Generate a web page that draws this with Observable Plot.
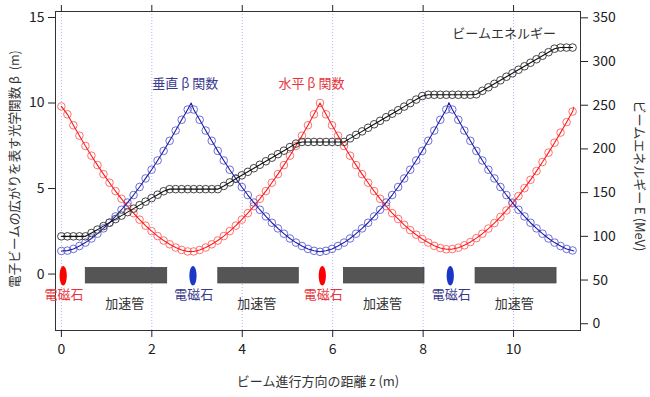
<!DOCTYPE html>
<html>
<head>
<meta charset="utf-8">
<script src="https://cdn.jsdelivr.net/npm/d3@7"></script>
<script src="https://cdn.jsdelivr.net/npm/@observablehq/plot@0.6"></script>
<style>
  html, body { margin: 0; padding: 0; background: #fff; }
</style>
</head>
<body>
<div id="chart"></div>
<script>
// ---- data ----
const z = [0, 0.133, 0.266, 0.399, 0.532, 0.665, 0.798, 0.931, 1.064, 1.197,
  1.33, 1.463, 1.596, 1.729, 1.862, 1.995, 2.128, 2.261, 2.394, 2.527,
  2.66, 2.793, 2.926, 3.059, 3.192, 3.325, 3.458, 3.591, 3.724, 3.857,
  3.99, 4.123, 4.256, 4.389, 4.522, 4.655, 4.788, 4.921, 5.054, 5.187,
  5.32, 5.453, 5.586, 5.719, 5.852, 5.985, 6.118, 6.251, 6.384, 6.517,
  6.65, 6.783, 6.916, 7.049, 7.182, 7.315, 7.448, 7.581, 7.714, 7.847,
  7.98, 8.113, 8.246, 8.379, 8.512, 8.645, 8.778, 8.911, 9.044, 9.177,
  9.31, 9.443, 9.576, 9.709, 9.842, 9.975, 10.108, 10.241, 10.374, 10.507,
  10.64, 10.773, 10.906, 11.039, 11.172, 11.305];

// horizontal beta function (m)
const betaH = [9.80, 9.34, 8.70, 8.09, 7.49, 6.92, 6.37, 5.84, 5.34, 4.85,
  4.40, 3.97, 3.56, 3.18, 2.83, 2.51, 2.22, 1.96, 1.74, 1.55,
  1.41, 1.32, 1.32, 1.41, 1.55, 1.74, 1.96, 2.22, 2.51, 2.83,
  3.18, 3.56, 3.97, 4.40, 4.85, 5.34, 5.84, 6.37, 6.92, 7.49,
  8.09, 8.70, 9.34, 10.00, 9.34, 8.70, 8.09, 7.49, 6.92, 6.37,
  5.84, 5.34, 4.85, 4.40, 3.97, 3.56, 3.22, 2.88, 2.57, 2.30,
  2.05, 1.84, 1.65, 1.52, 1.45, 1.46, 1.54, 1.68, 1.87, 2.10,
  2.36, 2.66, 2.98, 3.34, 3.72, 4.13, 4.56, 5.02, 5.51, 6.02,
  6.55, 7.10, 7.68, 8.27, 8.88, 9.50];

// vertical beta function (m)
const betaV = [1.35, 1.37, 1.47, 1.64, 1.84, 2.08, 2.36, 2.67, 3.00, 3.37,
  3.76, 4.18, 4.62, 5.09, 5.59, 6.10, 6.64, 7.20, 7.79, 8.39,
  9.02, 9.62, 9.62, 9.02, 8.39, 7.79, 7.20, 6.64, 6.10, 5.59,
  5.09, 4.62, 4.18, 3.76, 3.37, 3.00, 2.67, 2.36, 2.08, 1.84,
  1.64, 1.47, 1.36, 1.30, 1.36, 1.47, 1.64, 1.84, 2.08, 2.36,
  2.67, 3.00, 3.37, 3.76, 4.18, 4.62, 5.09, 5.59, 6.10, 6.64,
  7.20, 7.79, 8.39, 9.02, 9.62, 9.62, 9.02, 8.39, 7.79, 7.20,
  6.64, 6.10, 5.59, 5.09, 4.62, 4.18, 3.76, 3.37, 3.00, 2.67,
  2.36, 2.08, 1.84, 1.64, 1.47, 1.38];

// beam energy (MeV)
const energy = [100, 100, 100, 100, 100, 103.8, 107.7, 111.7, 115.7, 119.7,
  123.7, 127.7, 131.7, 135.7, 139.7, 143.7, 147.6, 151.6, 154, 154,
  154, 154, 154, 154, 154, 154, 154, 157.7, 161.7, 165.8,
  169.8, 173.8, 177.9, 181.9, 185.9, 190.0, 194.0, 198.0, 202.1, 206.1,
  208, 208, 208, 208, 208, 208, 208, 208, 212.1, 216.1,
  220.1, 224.2, 228.2, 232.2, 236.3, 240.3, 244.3, 248.4, 252.4, 256.5,
  260.5, 262, 262, 262, 262, 262, 262, 262, 262, 262.5,
  266.5, 270.5, 274.5, 278.5, 282.6, 286.6, 290.6, 294.6, 298.6, 302.6,
  306.6, 310.7, 314.7, 316, 316, 316];

// extra points of the solid curves (cusps at the magnets, curve ends)
const lineExtraH = [{z: 11.33, b: 9.75}];
const lineExtraV = [{z: 2.87, b: 10.0}, {z: 8.57, b: 10.02}, {z: 11.33, b: 1.35}];

// magnets and accelerator tubes
const magnets = [
  {z: 0.04, kind: "H"}, {z: 2.91, kind: "V"}, {z: 5.77, kind: "H"}, {z: 8.60, kind: "V"}
];
const tubes = [
  {z1: 0.54, z2: 2.34}, {z1: 3.47, z2: 5.25}, {z1: 6.25, z2: 8.03}, {z1: 9.16, z2: 10.95}
];

const xTicks = [0, 2, 4, 6, 8, 10];
const yTicks = [0, 5, 10, 15];
const eTicks = [0, 50, 100, 150, 200, 250, 300, 350];

const labelMagnet = "電磁石";
const labelTube = "加速管";
const labelV = "垂直 β 関数";
const labelH = "水平 β 関数";
const labelE = "ビームエネルギー";
const labelX = "ビーム進行方向の距離 z (m)";
const labelY = "電子ビームの広がりを表す光学関数 β\u00a0\u00a0(m)";
const labelY2 = "ビームエネルギー E (MeV)";

// ---- build ----
// energy (right axis) mapped onto the beta (left) axis
const E0 = -2.905, Ek = 0.0511;
const toB = e => E0 + e * Ek;

const rows = z.map((zz, i) => ({z: zz, h: betaH[i], v: betaV[i], e: toB(energy[i])}));
const lineH = rows.map(d => ({z: d.z, b: d.h})).concat(lineExtraH).sort((a, b) => a.z - b.z);
const lineV = rows.map(d => ({z: d.z, b: d.v})).concat(lineExtraV).sort((a, b) => a.z - b.z);

const RED = "#ff1a1a", RED_M = "#ff7070", RED_T = "#e8343c";
const BLUE = "#1c1ca8", BLUE_M = "#6e6ed8", BLUE_T = "#3b3b8e";

const ellipse = {
  draw(ctx) {
    const rx = 3.6, ry = 9.8, kx = rx * 0.5523, ky = ry * 0.5523;
    ctx.moveTo(rx, 0);
    ctx.bezierCurveTo(rx, ky, kx, ry, 0, ry);
    ctx.bezierCurveTo(-kx, ry, -rx, ky, -rx, 0);
    ctx.bezierCurveTo(-rx, -ky, -kx, -ry, 0, -ry);
    ctx.bezierCurveTo(kx, -ry, rx, -ky, rx, 0);
    ctx.closePath();
  }
};

const annotations = [
  {t: labelV, z: 2.74, b: 11.15, c: BLUE_T},
  {t: labelH, z: 5.53, b: 11.15, c: RED_T},
  {t: labelE, z: 9.79, b: 14.07, c: "#333"}
];
const magnetLabels = magnets.map(m => ({t: labelMagnet, z: m.z + 0.02, b: -1.2, c: m.kind === "H" ? RED_T : BLUE_T}));
const tubeLabels = tubes.map(t => ({t: labelTube, z: (t.z1 + t.z2) / 2 - 0.04, b: -1.72}));

const font = "'Noto Sans CJK JP', 'Noto Sans', sans-serif";
const R = 3.8;

const chart = Plot.plot({
  width: 650,
  height: 397,
  marginTop: 11,
  marginRight: 70,
  marginBottom: 67,
  marginLeft: 55,
  style: {fontFamily: font, fontSize: "14px", color: "#222", background: "#fff"},
  x: {domain: [-0.13, 11.48]},
  y: {domain: [-3.3, 15.35]},
  marks: [
    Plot.gridX(xTicks, {stroke: "#b4b4ff", strokeOpacity: 1, strokeDasharray: "1,2"}),
    Plot.frame({stroke: "#333", strokeWidth: 1}),
    Plot.axisX({anchor: "bottom", ticks: xTicks, tickSize: 7, tickPadding: 7, label: null, fontSize: 14, tickFormat: d => String(d)}),
    Plot.axisX({anchor: "top", ticks: xTicks, tickSize: 7, label: null, tickFormat: () => ""}),
    Plot.axisY({anchor: "left", ticks: yTicks, tickSize: 7, tickPadding: 4, label: null, fontSize: 14}),
    Plot.axisY(eTicks.map(toB), {anchor: "right", tickSize: 7, tickPadding: 5, label: null, fontSize: 14,
      tickFormat: d => String(Math.round((d - E0) / Ek))}),
    // accelerator tubes
    Plot.rect(tubes, {x1: "z1", x2: "z2", y1: -0.55, y2: 0.35, fill: "#555", stroke: "#444", strokeWidth: 0.8}),
    // magnets
    Plot.dot(magnets, {x: "z", y: -0.1, symbol: ellipse, fill: d => d.kind === "H" ? "#ff0000" : "#1a36c8", stroke: "none"}),
    // beta functions
    Plot.dot(rows, {x: "z", y: "h", r: R, stroke: RED_M, strokeWidth: 1, fill: "none"}),
    Plot.line(lineH, {x: "z", y: "b", stroke: RED, strokeWidth: 1.1}),
    Plot.dot(rows, {x: "z", y: "v", r: R, stroke: BLUE_M, strokeWidth: 1, fill: "none"}),
    Plot.line(lineV, {x: "z", y: "b", stroke: BLUE, strokeWidth: 1.1}),
    // energy
    Plot.dot(rows, {x: "z", y: "e", r: R, stroke: "#444", strokeWidth: 1, fill: "none"}),
    Plot.line(rows, {x: "z", y: "e", stroke: "#111", strokeWidth: 1.1}),
    // labels
    Plot.text(annotations, {x: "z", y: "b", text: "t", fill: "c", fontSize: 13}),
    Plot.text(magnetLabels, {x: "z", y: "b", text: "t", fill: "c", fontSize: 13}),
    Plot.text(tubeLabels, {x: "z", y: "b", text: "t", fill: "#333", fontSize: 13}),
    Plot.text([labelX], {text: d => d, frameAnchor: "bottom", textAnchor: "middle", dy: 55, fontSize: 13, fill: "#333"}),
    Plot.text([labelY], {text: d => d, frameAnchor: "left", textAnchor: "middle", rotate: -90, dx: -41, dy: -2, fontSize: 12.6, fill: "#333"}),
    Plot.text([labelY2], {text: d => d, frameAnchor: "right", textAnchor: "middle", rotate: 90, dx: 59, dy: 5, fontSize: 13, fill: "#333"})
  ]
});

document.getElementById("chart").appendChild(chart);
</script>
</body>
</html>
